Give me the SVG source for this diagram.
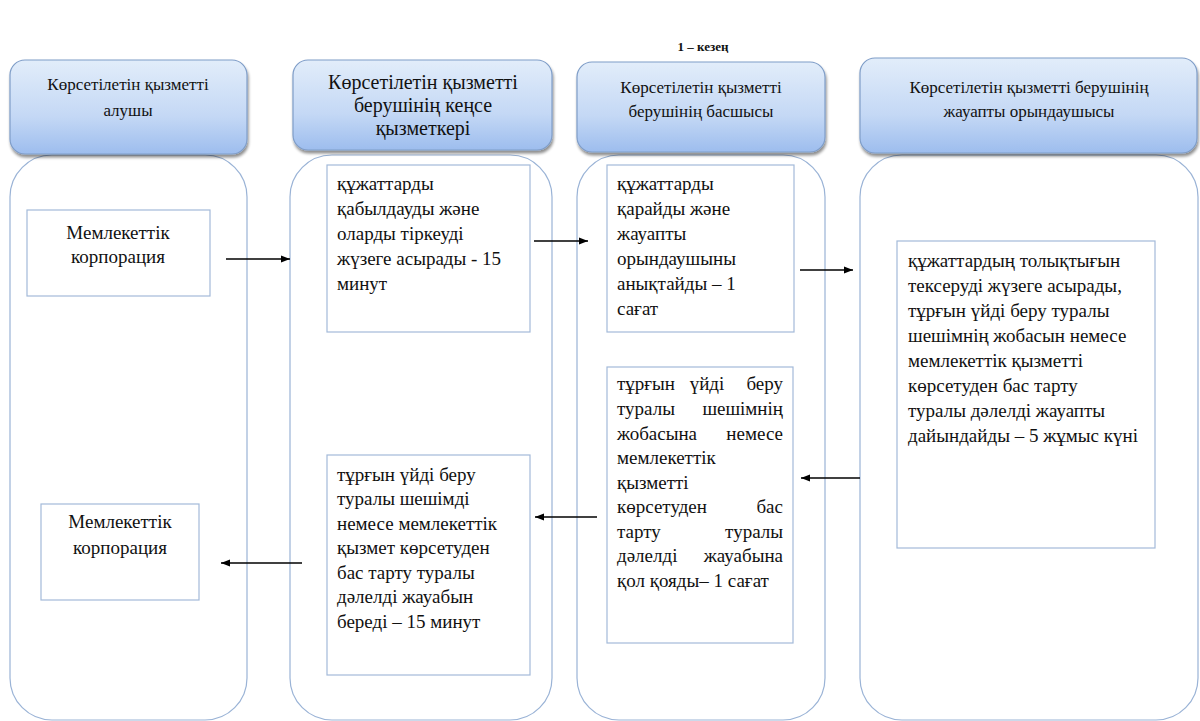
<svg xmlns="http://www.w3.org/2000/svg" width="1200" height="721" viewBox="0 0 1200 721" font-family="'Liberation Serif', 'Times New Roman', 'DejaVu Serif', serif">
<style>
text{fill:#111}
.title{font-size:13px;font-weight:bold}
.hd{font-size:17px;text-anchor:middle}
.hd2{font-size:20px;text-anchor:middle}
.bt{font-size:19px}
.ct{font-size:19px;text-anchor:middle}
.r{text-anchor:end}
.m{text-anchor:middle}
.lane{fill:#fff;stroke:#9ab3d6;stroke-width:1.2}
.hdr{fill:url(#hg);stroke:#7f9dc8;stroke-width:1.2;filter:url(#sh)}
.box{fill:#fff;stroke:#a3bad9;stroke-width:1.2}
.arr{stroke:#000;stroke-width:1.3;fill:none;marker-end:url(#ah)}
</style>
<defs>
<linearGradient id="hg" x1="0" y1="0" x2="0" y2="1">
<stop offset="0" stop-color="#e2edfa"/>
<stop offset="0.6" stop-color="#c4d8f5"/>
<stop offset="1" stop-color="#9dbdee"/>
</linearGradient>
<filter id="sh" x="-5%" y="-5%" width="110%" height="120%">
<feGaussianBlur in="SourceAlpha" stdDeviation="1.5"/>
<feOffset dx="1" dy="2.5" result="b"/>
<feComponentTransfer><feFuncA type="linear" slope="0.45"/></feComponentTransfer>
<feMerge><feMergeNode/><feMergeNode in="SourceGraphic"/></feMerge>
</filter>
<marker id="ah" viewBox="0 0 10 10" refX="10" refY="5" markerWidth="9" markerHeight="9" markerUnits="userSpaceOnUse" orient="auto">
<path d="M0,1 L10,5 L0,9 z" fill="#000"/>
</marker>
</defs>
<rect width="1200" height="721" fill="#fff"/>
<text class="title" x="703" y="51" text-anchor="middle">1 – кезең</text>

<g id="lanes">
<rect id="lane1" class="lane" x="10" y="155" width="237" height="565" rx="42" ry="42"/>
<rect id="lane2" class="lane" x="290" y="155" width="262" height="565" rx="42" ry="42"/>
<rect id="lane3" class="lane" x="577" y="155" width="248" height="565" rx="42" ry="42"/>
<rect id="lane4" class="lane" x="860" y="155" width="338" height="565" rx="42" ry="42"/>
</g>

<g id="h1">
<rect class="hdr" x="10" y="60" width="237" height="94" rx="15" ry="15"/>
<text class="hd" x="128" y="90">Көрсетілетін қызметті</text>
<text class="hd" x="128" y="116">алушы</text>
</g>
<g id="h2">
<rect class="hdr" x="293" y="60" width="259" height="90" rx="15" ry="15"/>
<text class="hd2" x="423" y="89">Көрсетілетін қызметті</text>
<text class="hd2" x="423" y="112">берушінің кеңсе</text>
<text class="hd2" x="423" y="135">қызметкері</text>
</g>
<g id="h3">
<rect class="hdr" x="577" y="62" width="248" height="90" rx="15" ry="15"/>
<text class="hd" x="701" y="93">Көрсетілетін қызметті</text>
<text class="hd" x="701" y="117">берушінің басшысы</text>
</g>
<g id="h4">
<rect class="hdr" x="860" y="58" width="337" height="95" rx="15" ry="15"/>
<text class="hd" x="1029" y="93">Көрсетілетін қызметті берушінің</text>
<text class="hd" x="1029" y="117">жауапты орындаушысы</text>
</g>

<g id="a1">
<rect class="box" x="27" y="210" width="183" height="86"/>
<text class="ct" x="118" y="239">Мемлекеттік</text>
<text class="ct" x="118" y="263">корпорация</text>
</g>
<g id="b1">
<rect class="box" x="327" y="165" width="203" height="167"/>
<text class="bt" x="337" y="190">құжаттарды</text>
<text class="bt" x="337" y="215">қабылдауды және</text>
<text class="bt" x="337" y="240">оларды тіркеуді</text>
<text class="bt" x="337" y="265">жүзеге асырады - 15</text>
<text class="bt" x="337" y="290">минут</text>
</g>
<g id="c1">
<rect class="box" x="607" y="165" width="187" height="167"/>
<text class="bt" x="617" y="190">құжаттарды</text>
<text class="bt" x="617" y="215">қарайды және</text>
<text class="bt" x="617" y="240">жауапты</text>
<text class="bt" x="617" y="265">орындаушыны</text>
<text class="bt" x="617" y="290">анықтайды – 1</text>
<text class="bt" x="617" y="315">сағат</text>
</g>
<g id="d1">
<rect class="box" x="897" y="241" width="258" height="307"/>
<text class="bt" x="908" y="267">құжаттардың толықтығын</text>
<text class="bt" x="908" y="292">тексеруді жүзеге асырады,</text>
<text class="bt" x="908" y="317">тұрғын үйді беру туралы</text>
<text class="bt" x="908" y="342">шешімнің жобасын немесе</text>
<text class="bt" x="908" y="367">мемлекеттік қызметті</text>
<text class="bt" x="908" y="392">көрсетуден бас тарту</text>
<text class="bt" x="908" y="417">туралы дәлелді жауапты</text>
<text class="bt" x="908" y="442">дайындайды – 5 жұмыс күні</text>
</g>
<g id="e1">
<rect class="box" x="607" y="367" width="186" height="276"/>
<text class="bt" y="390"><tspan x="617">тұрғын</tspan><tspan class="m" x="707">үйді</tspan><tspan class="r" x="783">беру</tspan></text>
<text class="bt" y="415"><tspan x="617">туралы</tspan><tspan class="r" x="783">шешімнің</tspan></text>
<text class="bt" y="440"><tspan x="617">жобасына</tspan><tspan class="r" x="783">немесе</tspan></text>
<text class="bt" x="617" y="464">мемлекеттік</text>
<text class="bt" x="617" y="489">қызметті</text>
<text class="bt" y="513"><tspan x="617">көрсетуден</tspan><tspan class="r" x="783">бас</tspan></text>
<text class="bt" y="538"><tspan x="617">тарту</tspan><tspan class="r" x="783">туралы</tspan></text>
<text class="bt" y="562"><tspan x="617">дәлелді</tspan><tspan class="r" x="783">жауабына</tspan></text>
<text class="bt" x="617" y="587">қол қояды– 1 сағат</text>
</g>
<g id="f1">
<rect class="box" x="327" y="455" width="203" height="220"/>
<text class="bt" x="337" y="481">тұрғын үйді беру</text>
<text class="bt" x="337" y="505">туралы шешімді</text>
<text class="bt" x="337" y="530">немесе мемлекеттік</text>
<text class="bt" x="337" y="554">қызмет көрсетуден</text>
<text class="bt" x="337" y="579">бас тарту туралы</text>
<text class="bt" x="337" y="603">дәлелді жауабын</text>
<text class="bt" x="337" y="628">береді – 15 минут</text>
</g>
<g id="a2">
<rect class="box" x="41" y="504" width="158" height="96"/>
<text class="ct" x="120" y="528">Мемлекеттік</text>
<text class="ct" x="120" y="554">корпорация</text>
</g>

<g id="connectors">
<line class="arr" x1="226" y1="259" x2="290" y2="259"/>
<line class="arr" x1="534" y1="241" x2="588" y2="241"/>
<line class="arr" x1="800" y1="270" x2="853" y2="270"/>
<line class="arr" x1="860" y1="478" x2="801" y2="478"/>
<line class="arr" x1="597" y1="517" x2="535" y2="517"/>
<line class="arr" x1="302" y1="563" x2="221" y2="563"/>
</g>
</svg>
